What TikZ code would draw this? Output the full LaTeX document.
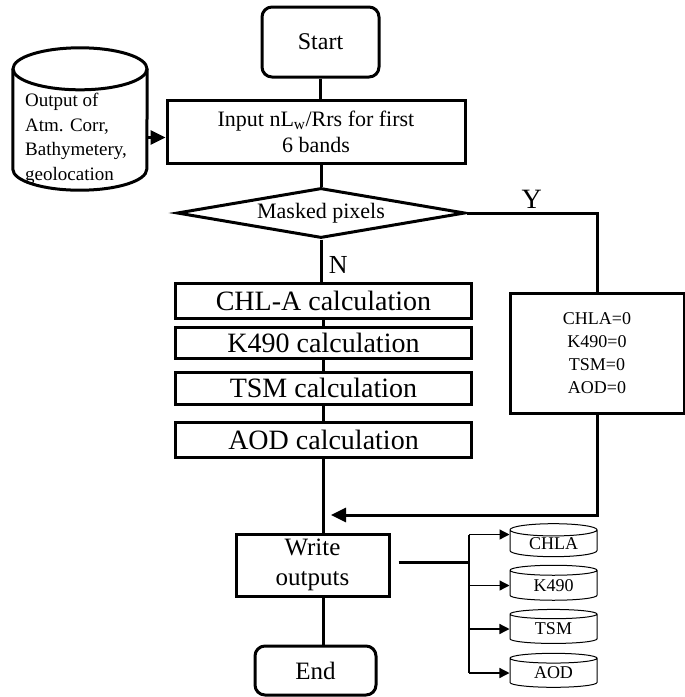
\documentclass[tikz,border=0pt]{standalone}
\usepackage{fontspec}
\setmainfont{Liberation Serif}
\usetikzlibrary{shapes.geometric,arrows.meta}
\newcommand{\fsize}[2]{\fontsize{#1}{#2}\selectfont}

\begin{document}
\begin{tikzpicture}[x=1pt, y=-1pt,
    box/.style={draw, line width=3pt, inner sep=0pt, align=center},
    term/.style={box, rounded corners=10pt},
    store/.style={draw, cylinder, shape border rotate=90, line width=1pt, inner sep=0pt, font=\fsize{18}{20}},
    line/.style={line width=3pt},
    arr/.style={line, -{Triangle[length=15pt,width=14pt]}},
    thinarr/.style={line width=1.3pt, -{Triangle[length=10pt,width=10pt]}}]
    \useasboundingbox (0,0) rectangle (685,697);

    % Draw nodes for the main column
    \node[term, minimum width=117pt, minimum height=70pt, font=\fsize{24}{28}] (start) at (320.5,42) {Start};
    \node[box, minimum width=298pt, minimum height=63pt, font=\fsize{22}{26}] (input) at (316,131.5) {Input nL\textsubscript{w}/Rrs for first\\6 bands};
    \node[box, diamond, aspect=5.8, minimum width=288pt, minimum height=50pt, font=\fsize{22}{26}] (mask) at (321,213) {Masked pixels};
    \node[box, minimum width=296pt, minimum height=35pt, font=\fsize{28}{30}] (chl) at (323.5,300.5) {CHL-A calculation};
    \node[box, minimum width=296pt, minimum height=31pt, font=\fsize{28}{30}] (k490) at (323.5,342.5) {K490 calculation};
    \node[box, minimum width=296pt, minimum height=32pt, font=\fsize{28}{30}] (tsm) at (323.5,388) {TSM calculation};
    \node[box, minimum width=296pt, minimum height=35pt, font=\fsize{28}{30}] (aod) at (323.5,439.5) {AOD calculation};
    \node[box, minimum width=153pt, minimum height=62pt, font=\fsize{25}{30}] (write) at (312.5,565) {Write\\outputs};
    \node[term, minimum width=121pt, minimum height=49pt, font=\fsize{25}{28}] (end) at (315.5,670.5) {End};

    % Draw the input store (a cylinder round the node)
    \node[minimum width=134pt, minimum height=142pt, inner sep=0pt] (atm) at (80,119) {};
    \draw[line] ([yshift=-21pt]atm.north west) -- ([yshift=21pt]atm.south west)
        arc[start angle=180, end angle=360, x radius=67pt, y radius=21pt]
        -- ([yshift=-21pt]atm.north east);
    \draw[line] ([yshift=-21pt]atm.north) ellipse[x radius=67pt, y radius=21pt];
    \node[align=left, anchor=west, inner sep=0pt, font=\fsize{19}{24.5}] (atmtext) at (25,139) {Output of\\Atm. Corr,\\Bathymetery,\\geolocation};

    % Draw the masked branch
    \node[box, minimum width=174pt, minimum height=120pt, font=\fsize{18}{23}] (zero) at (597,353) {CHLA=0\\K490=0\\TSM=0\\AOD=0};

    % Draw the output stores
    \node[store, minimum width=87pt, minimum height=33pt, aspect=0.25] (oC) at (553.5,543.5) {CHLA};
    \node[store, minimum width=87pt, minimum height=35pt, aspect=0.25] (oK) at (553.5,585.5) {K490};
    \node[store, minimum width=87pt, minimum height=34pt, aspect=0.25] (oT) at (553.5,629) {TSM};
    \node[store, minimum width=87pt, minimum height=34pt, aspect=0.25] (oA) at (553.5,673) {AOD};

    \coordinate (merge) at (331,515);
    \coordinate (bus) at (469,562);

    % Draw all edges
    \draw[line] (start.south) -- (start.south |- input.north);
    \draw[line] (mask.north) -- (mask.north |- input.south);
    \draw[arr] ([yshift=-6pt]input.west -| atm.east) -- ([yshift=-6pt]input.west);
    \draw[line] (mask.east) -- node[above, font=\fsize{28}{30}] {Y} (zero.north |- mask.east) -- (zero.north);
    \draw[line] (mask.south) -- node[pos=0.6, right, xshift=3pt, font=\fsize{26}{28}] {N} (mask.south |- chl.north);
    \draw[line] (chl.south) -- (k490.north);
    \draw[line] (k490.south) -- (tsm.north);
    \draw[line] (tsm.south) -- (aod.north);
    \draw[line] (aod.south) -- (aod.south |- write.north);
    \draw[line] (aod.south |- write.south) -- (aod.south |- end.north);
    \draw[arr] (zero.south) -- (zero.south |- merge) -- (merge);

    % Draw the output bus
    \draw[line] ([xshift=8pt]write.east |- bus) -- (bus);
    \draw[line width=2.8pt] ([yshift=9pt]oC.west -| bus) -- (oA.west -| bus);
    \draw[thinarr] ([yshift=9pt]oC.west -| bus) -- ([yshift=9pt]oC.west);
    \foreach \o in {oK, oT, oA}
        \draw[thinarr] (\o.west -| bus) -- (\o.west);

\end{tikzpicture}
\end{document}
